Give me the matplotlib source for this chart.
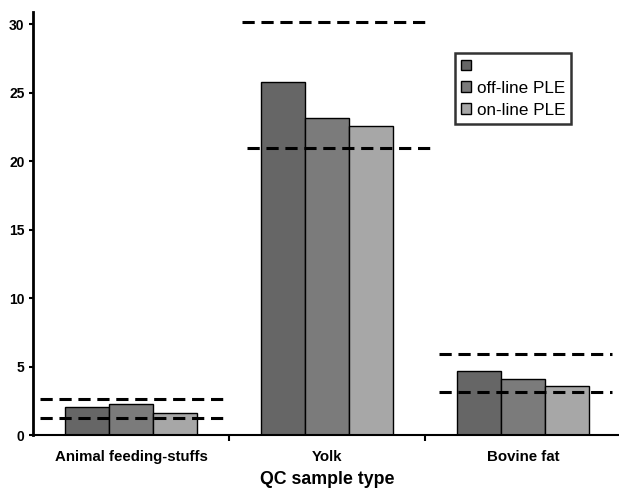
import matplotlib
matplotlib.use("Agg")
import matplotlib.pyplot as plt
import numpy as np

plt.rcParams['font.family'] = ['Liberation Sans', 'DejaVu Sans']

categories = ["Animal feeding-stuffs", "Yolk", "Bovine fat"]
series_labels = [" ", "off-line PLE", "on-line PLE"]
series_1 = [2.05, 25.75, 4.65]
series_2 = [2.3, 23.15, 4.1]
series_3 = [1.6, 22.6, 3.6]
upper_limits = [2.63, 30.15, 5.9]
lower_limits = [1.24, 20.95, 3.14]
upper_spans = [(-0.464, 0.474), (0.566, 1.5), (1.571, 2.454)]
lower_spans = [(-0.464, 0.474), (0.592, 1.536), (1.571, 2.454)]
yticks = [0, 5, 10, 15, 20, 25, 30]

colors = ["#666666", "#7b7b7b", "#a7a7a7"]

fig = plt.figure(figsize=(6.19, 4.90), dpi=100)
ax = fig.add_axes([33/619, 1-435/490, 588/619, (435-12)/490])

x = np.arange(len(categories))
w = 0.224
handles = []
for i, (vals, c, lab) in enumerate(zip([series_1, series_2, series_3], colors, series_labels)):
    b = ax.bar(x + (i-1)*w, vals, w, color=c, edgecolor='black', linewidth=1.0, label=lab, zorder=2)
    handles.append(b)

for (a, b), v in zip(upper_spans, upper_limits):
    ax.plot([a, b], [v, v], color='black', linestyle=(0, (4, 2.2)), linewidth=2.2, zorder=3)
for (a, b), v in zip(lower_spans, lower_limits):
    ax.plot([a, b], [v, v], color='black', linestyle=(0, (4, 2.2)), linewidth=2.2, zorder=3)

ax.set_xlim(-0.5, 2.5)
ax.set_ylim(0, 30.9)
ax.set_yticks(yticks)
ax.set_yticklabels([str(t) for t in yticks], fontsize=10, fontweight='bold')
ax.tick_params(axis='y', length=3, width=1.5, pad=3)

ax.set_xticks([0.5, 1.5])
ax.set_xticklabels(["", ""])
ax.set_xticks(x, minor=True)
ax.set_xticklabels(categories, minor=True, fontsize=10.8, fontweight='bold')
ax.tick_params(axis='x', which='major', length=4, width=1.5)
ax.tick_params(axis='x', which='minor', length=0, pad=11)

ax.spines['top'].set_visible(False)
ax.spines['right'].set_visible(False)
ax.spines['left'].set_linewidth(2)
ax.spines['bottom'].set_linewidth(1.5)

ax.set_xlabel("QC sample type", fontsize=12.8, fontweight='bold', labelpad=5)

leg = ax.legend(handles, series_labels, loc='upper left', bbox_to_anchor=(0.718, 0.903),
                frameon=True, fancybox=False, edgecolor='black', fontsize=12.3,
                handlelength=0.6, handleheight=0.6, handletextpad=0.3,
                borderpad=0.35, labelspacing=0.4, borderaxespad=0)
leg.get_frame().set_linewidth(1.8)

fig.savefig("out.png", dpi=100)
